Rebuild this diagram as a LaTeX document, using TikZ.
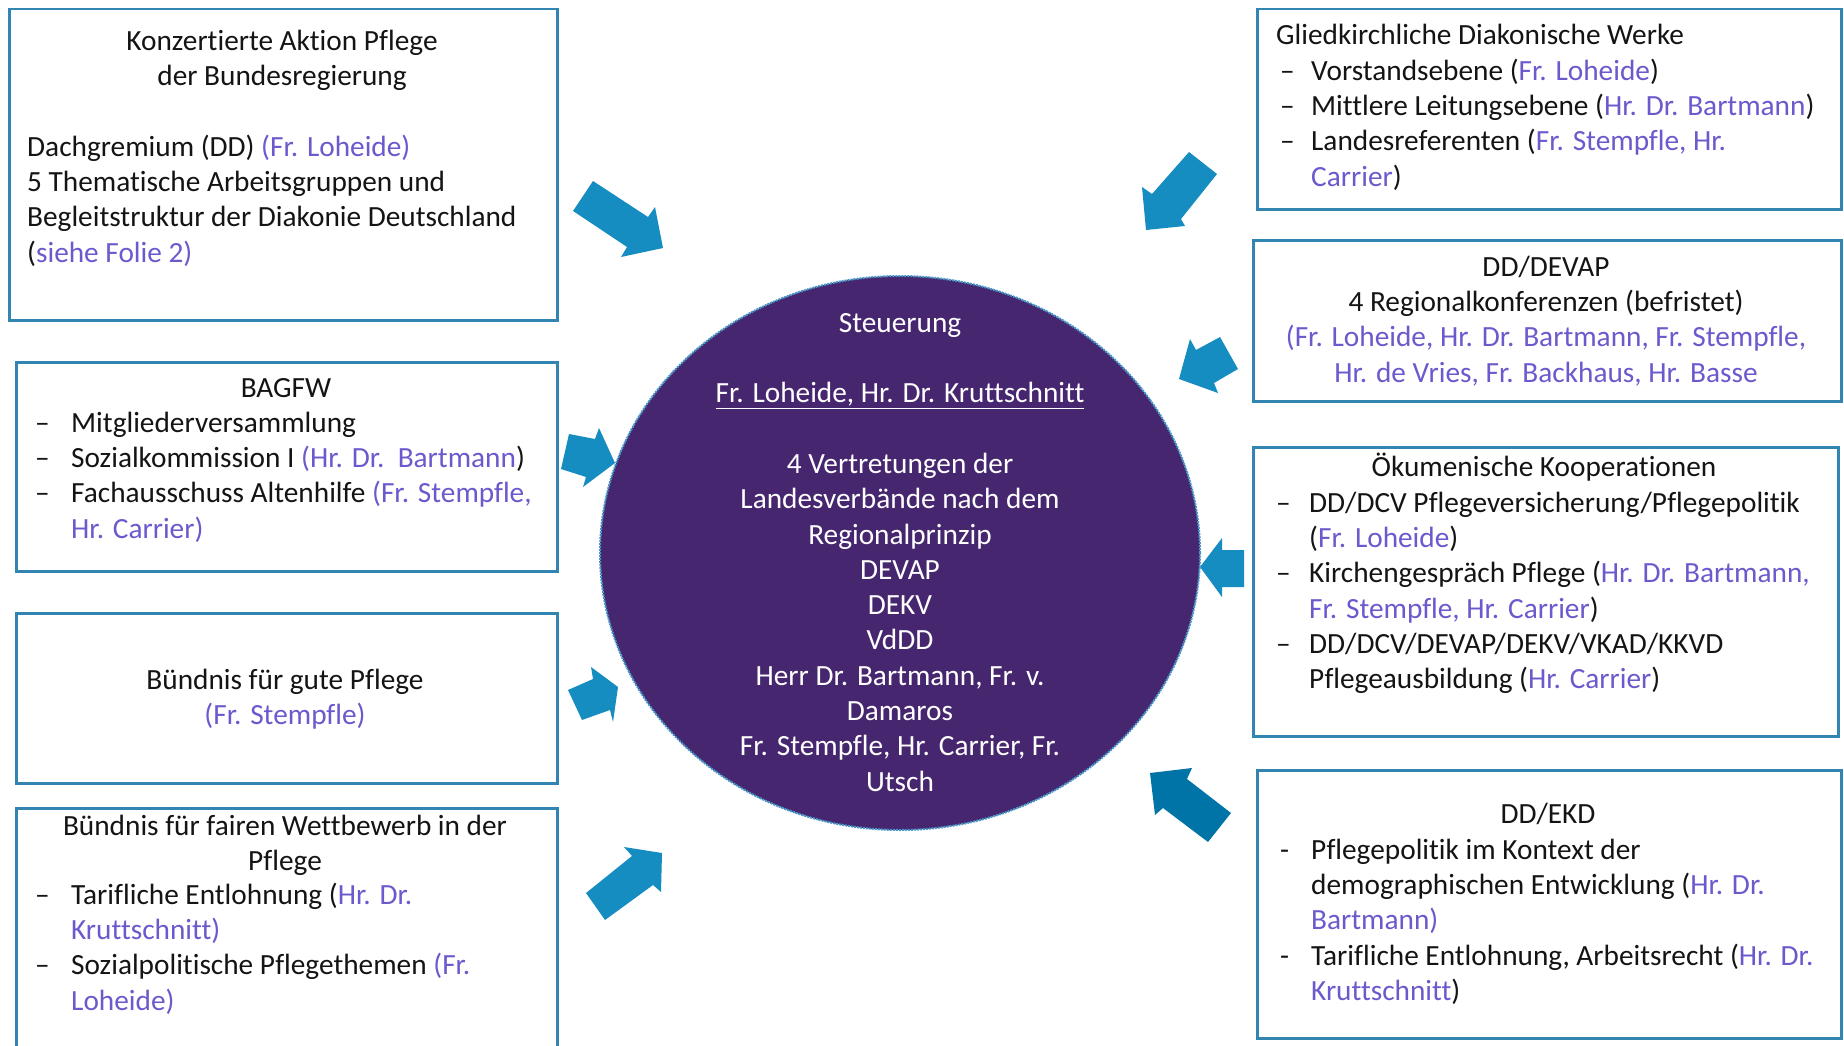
\documentclass[tikz,border=0pt]{standalone}
\usepackage{fontspec}
\setmainfont{Carlito}[Ligatures={NoCommon}]
\usetikzlibrary{shapes.geometric}
\definecolor{boxc}{RGB}{49,133,176}
\definecolor{arrc}{RGB}{22,141,193}
\definecolor{arrd}{RGB}{0,116,166}
\definecolor{circc}{RGB}{71,38,112}
\definecolor{namec}{RGB}{106,90,205}
\definecolor{dotc}{RGB}{70,150,200}
\definecolor{txtc}{RGB}{20,20,20}
\newcommand\nm[1]{\textcolor{namec}{#1}}
\newcommand\bl[2]{\makebox[#1][l]{#2}}
\begin{document}
\begin{tikzpicture}[x=1pt,y=-1pt,
  boxst/.style={draw=boxc, line width=2.5pt, anchor=north west, inner sep=0pt},
  txt/.style={inner sep=0pt, font=\fontsize{29.3}{35.3}\selectfont, text=txtc},
  ctxt/.style={txt, anchor=north, align=center},
  ltxt/.style={txt, anchor=north west, align=left},
  arrst/.style={fill=arrc},
  arrdk/.style={fill=arrd}]
\useasboundingbox (0,0) rectangle (1844,1046);
\clip (0,0) rectangle (1844,1046);
\fill[white] (0,0) rectangle (1844,1046);

% boxes
\node (b1) [boxst, minimum width=548pt, minimum height=311pt] at (8,8) {};
\node (b2) [boxst, minimum width=541pt, minimum height=209pt] at (15,361) {};
\node (b3) [boxst, minimum width=541pt, minimum height=170pt] at (15,612) {};
\node (b4) [boxst, minimum width=541pt, minimum height=263pt] at (15,807) {};
\node (b5) [boxst, minimum width=584pt, minimum height=200pt] at (1256,8) {};
\node (b6) [boxst, minimum width=588pt, minimum height=161pt] at (1252,239) {};
\node (b7) [boxst, minimum width=585pt, minimum height=289pt] at (1252,446) {};
\node (b8) [boxst, minimum width=584pt, minimum height=268pt] at (1256,769) {};

% circle
\node (circ) [ellipse, fill=circc, draw=dotc, densely dotted, line width=2pt,
  minimum width=600pt, minimum height=554pt, inner sep=0pt] at (900,553) {};
\node (ctext) [ctxt, text=white] at (900,307.3) {\strut Steuerung\\\strut\\
  \underline{Fr. Loheide, Hr. Dr. Kruttschnitt}\\\strut\\
  4 Vertretungen der\\Landesverbände nach dem\\Regionalprinzip\\DEVAP\\DEKV\\VdDD\\
  Herr Dr. Bartmann, Fr. v.\\Damaros\\Fr. Stempfle, Hr. Carrier, Fr.\\Utsch};

% box 1
\node (t1) [ctxt] at (282,25.3) {\strut Konzertierte Aktion Pflege\\der Bundesregierung};
\node (t1b) [ltxt] at (27,131.3) {\strut Dachgremium (DD) \nm{(Fr. Loheide)}\\
  5 Thematische Arbeitsgruppen und\\Begleitstruktur der Diakonie Deutschland\\
  (\nm{siehe Folie 2)}};

% box 2
\node (t2) [ctxt] at (286,372.3) {\strut BAGFW};
\node (t2b) [ltxt] at (35,407.3) {\strut\bl{36pt}{–}Mitgliederversammlung\\
  \bl{36pt}{–}Sozialkommission I \nm{(Hr. Dr.\ \ Bartmann})\\
  \bl{36pt}{–}Fachausschuss Altenhilfe \nm{(Fr. Stempfle,}\\
  \hspace*{36pt}\nm{Hr. Carrier)}};

% box 3
\node (t3) [ctxt] at (285,664.3) {\strut Bündnis für gute Pflege\\\nm{(Fr. Stempfle)}};

% box 4
\node (t4) [ctxt] at (285,810.3) {\strut Bündnis für fairen Wettbewerb in der\\Pflege};
\node (t4b) [ltxt] at (35,879.3) {\strut\bl{36pt}{–}Tarifliche Entlohnung (\nm{Hr. Dr.}\\
  \hspace*{36pt}\nm{Kruttschnitt)}\\
  \bl{36pt}{–}Sozialpolitische Pflegethemen \nm{(Fr.}\\
  \hspace*{36pt}\nm{Loheide)}};

% box 5
\node (t5) [ltxt] at (1276,19.3) {\strut Gliedkirchliche Diakonische Werke};
\node (t5b) [ltxt] at (1280,55.3) {\strut\bl{31pt}{–}Vorstandsebene (\nm{Fr. Loheide})\\
  \bl{31pt}{–}Mittlere Leitungsebene (\nm{Hr. Dr. Bartmann})\\
  \bl{31pt}{–}Landesreferenten (\nm{Fr. Stempfle, Hr.}\\
  \hspace*{31pt}\nm{Carrier})};

% box 6
\node (t6) [ctxt] at (1546,251.3) {\strut DD/DEVAP\\4 Regionalkonferenzen (befristet)\\
  \nm{(Fr. Loheide, Hr. Dr. Bartmann, Fr. Stempfle,}\\
  \nm{Hr. de Vries, Fr. Backhaus, Hr. Basse}};

% box 7
\node (t7) [ctxt] at (1544,451.3) {\strut Ökumenische Kooperationen};
\node (t7b) [ltxt] at (1276,487.3) {\strut\bl{33pt}{–}DD/DCV Pflegeversicherung/Pflegepolitik\\
  \hspace*{33pt}(\nm{Fr. Loheide})\\
  \bl{33pt}{–}Kirchengespräch Pflege (\nm{Hr. Dr. Bartmann,}\\
  \hspace*{33pt}\nm{Fr. Stempfle, Hr. Carrier})\\
  \bl{33pt}{–}DD/DCV/DEVAP/DEKV/VKAD/KKVD\\
  \hspace*{33pt}Pflegeausbildung (\nm{Hr. Carrier})};

% box 8
\node (t8) [ctxt] at (1548,798.3) {\strut DD/EKD};
\node (t8b) [ltxt] at (1280,834.3) {\strut\bl{31pt}{-}Pflegepolitik im Kontext der\\
  \hspace*{31pt}demographischen Entwicklung (\nm{Hr. Dr.}\\
  \hspace*{31pt}\nm{Bartmann)}\\
  \bl{31pt}{-}Tarifliche Entlohnung, Arbeitsrecht (\nm{Hr. Dr.}\\
  \hspace*{31pt}\nm{Kruttschnitt})};

% block arrows
\fill[arrst] (593,181) -- (648,217) -- (655,207) -- (663,248) -- (621,257) -- (627,247) -- (573,211) -- cycle;
\fill[arrst] (1189,152) -- (1217,174) -- (1181,219) -- (1185,226) -- (1146,230) -- (1142,187) -- (1152,194) -- cycle;
\fill[arrst] (1220,337) -- (1238,369) -- (1214,383) -- (1218,393) -- (1179,379) -- (1190,339) -- (1196,350) -- cycle;
\fill[arrst] (569,434) -- (595,439) -- (599,428) -- (615,463) -- (583,487) -- (586,477) -- (561,469) -- cycle;
\fill[arrst] (1244,550) -- (1244,587) -- (1222,587) -- (1222,597) -- (1200,567) -- (1222,538) -- (1222,550) -- cycle;
\fill[arrst] (568,690) -- (593,679) -- (591,667) -- (618,687) -- (613,722) -- (610,710) -- (582,720) -- cycle;
\fill[arrdk] (1208,842) -- (1231,813) -- (1187,779) -- (1192,768) -- (1150,773) -- (1155,815) -- (1163,808) -- cycle;
\fill[arrst] (586,893) -- (632,856) -- (624,847) -- (662,853) -- (661,892) -- (653,885) -- (605,920) -- cycle;
\end{tikzpicture}
\end{document}
